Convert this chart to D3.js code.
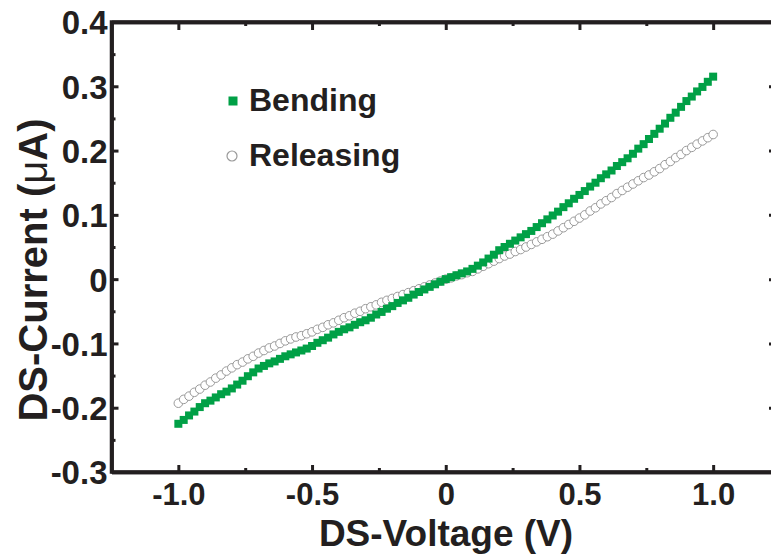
<!DOCTYPE html>
<html>
<head>
<meta charset="utf-8">
<script src="https://cdn.jsdelivr.net/npm/d3@7"></script>
<style>
  html, body { margin: 0; padding: 0; background: #fff; }
  svg { display: block; }
  text { font-family: "Liberation Sans", Arial, sans-serif; font-weight: bold; fill: #231f20; }
</style>
</head>
<body>
<svg id="chart" width="771" height="556"></svg>
<script>
// ---- data ----
const voltage = [
 -1.00,-0.98,-0.96,-0.94,-0.92,-0.90,-0.88,-0.86,-0.84,-0.82,
 -0.80,-0.78,-0.76,-0.74,-0.72,-0.70,-0.68,-0.66,-0.64,-0.62,
 -0.60,-0.58,-0.56,-0.54,-0.52,-0.50,-0.48,-0.46,-0.44,-0.42,
 -0.40,-0.38,-0.36,-0.34,-0.32,-0.30,-0.28,-0.26,-0.24,-0.22,
 -0.20,-0.18,-0.16,-0.14,-0.12,-0.10,-0.08,-0.06,-0.04,-0.02,
  0.00, 0.02, 0.04, 0.06, 0.08, 0.10, 0.12, 0.14, 0.16, 0.18,
  0.20, 0.22, 0.24, 0.26, 0.28, 0.30, 0.32, 0.34, 0.36, 0.38,
  0.40, 0.42, 0.44, 0.46, 0.48, 0.50, 0.52, 0.54, 0.56, 0.58,
  0.60, 0.62, 0.64, 0.66, 0.68, 0.70, 0.72, 0.74, 0.76, 0.78,
  0.80, 0.82, 0.84, 0.86, 0.88, 0.90, 0.92, 0.94, 0.96, 0.98,
  1.00
];
const bending = [
 -0.225,-0.219,-0.212,-0.206,-0.199,-0.193,-0.189,-0.184,-0.179,-0.175,
 -0.170,-0.164,-0.158,-0.151,-0.145,-0.139,-0.135,-0.131,-0.128,-0.124,
 -0.120,-0.117,-0.114,-0.111,-0.108,-0.104,-0.099,-0.095,-0.091,-0.086,
 -0.082,-0.078,-0.075,-0.071,-0.067,-0.064,-0.060,-0.055,-0.051,-0.046,
 -0.042,-0.037,-0.033,-0.029,-0.024,-0.020,-0.016,-0.012,-0.008,-0.004,
  0.000, 0.003, 0.006, 0.009, 0.012, 0.016, 0.021, 0.026, 0.032, 0.038,
  0.045, 0.050, 0.055, 0.060, 0.065, 0.070, 0.075, 0.081, 0.087, 0.093,
  0.099, 0.105, 0.112, 0.118, 0.125, 0.131, 0.137, 0.144, 0.150, 0.157,
  0.163, 0.169, 0.176, 0.182, 0.188, 0.195, 0.203, 0.210, 0.218, 0.226,
  0.234, 0.242, 0.251, 0.259, 0.268, 0.277, 0.284, 0.292, 0.299, 0.307,
  0.315
];
const releasing = [
 -0.193,-0.187,-0.182,-0.176,-0.171,-0.165,-0.160,-0.154,-0.149,-0.143,
 -0.138,-0.133,-0.129,-0.124,-0.120,-0.115,-0.111,-0.107,-0.104,-0.100,
 -0.096,-0.093,-0.090,-0.088,-0.085,-0.082,-0.078,-0.075,-0.071,-0.068,
 -0.064,-0.060,-0.057,-0.053,-0.050,-0.046,-0.043,-0.040,-0.036,-0.033,
 -0.030,-0.027,-0.024,-0.021,-0.018,-0.015,-0.012,-0.009,-0.006,-0.003,
  0.000, 0.002, 0.005, 0.007, 0.010, 0.012, 0.016, 0.020, 0.024, 0.028,
  0.032, 0.036, 0.039, 0.043, 0.046, 0.050, 0.054, 0.058, 0.062, 0.066,
  0.070, 0.075, 0.080, 0.085, 0.090, 0.095, 0.100, 0.106, 0.111, 0.117,
  0.122, 0.127, 0.133, 0.138, 0.143, 0.148, 0.153, 0.158, 0.162, 0.167,
  0.172, 0.178, 0.183, 0.189, 0.194, 0.200, 0.205, 0.210, 0.215, 0.220,
  0.225
];
const xTicks = [-1.0, -0.5, 0, 0.5, 1.0];
const xTickLabels = ["-1.0", "-0.5", "0", "0.5", "1.0"];
const xMinorTicks = [-0.75, -0.25, 0.25, 0.75];
const yTicks = [-0.3, -0.2, -0.1, 0, 0.1, 0.2, 0.3, 0.4];
const yTickLabels = ["-0.3", "-0.2", "-0.1", "0", "0.1", "0.2", "0.3", "0.4"];
const yMinorTicks = [-0.25, -0.15, -0.05, 0.05, 0.15, 0.25, 0.35];
const seriesNames = ["Bending", "Releasing"];

// ---- layout ----
const svg = d3.select("#chart");
const pLeft = 111.5, pRight = 780, pTop = 22, pBottom = 472;
const x = d3.scaleLinear().domain([-1.25, 1.25]).range([pLeft, pRight]);
const y = d3.scaleLinear().domain([-0.3, 0.4]).range([pBottom, pTop]);
const green = "#00a046";
const ink = "#231f20";

// ---- data marks ----
const relData = voltage.map((v, i) => ({ v, c: releasing[i] }));
const benData = voltage.map((v, i) => ({ v, c: bending[i] }));

svg.append("g").selectAll("circle").data(relData).join("circle")
  .attr("cx", d => x(d.v)).attr("cy", d => y(d.c)).attr("r", 4.3)
  .attr("fill", "#fff").attr("stroke", "#9a9a9a").attr("stroke-width", 1);

const sq = 8;
svg.append("g").selectAll("rect").data(benData).join("rect")
  .attr("x", d => x(d.v) - sq / 2).attr("y", d => y(d.c) - sq / 2)
  .attr("width", sq).attr("height", sq).attr("fill", green);

// ---- axes ----
const axBottom = svg.append("g").attr("transform", `translate(0,${pBottom})`)
  .call(d3.axisBottom(x).tickValues(xTicks).tickSizeInner(-7).tickSizeOuter(0).tickFormat((d, i) => xTickLabels[i]));
const axBottomMinor = svg.append("g").attr("transform", `translate(0,${pBottom})`)
  .call(d3.axisBottom(x).tickValues(xMinorTicks).tickSizeInner(-4).tickSizeOuter(0).tickFormat(""));
const axTop = svg.append("g").attr("transform", `translate(0,${pTop})`)
  .call(d3.axisTop(x).tickValues(xTicks).tickSizeInner(-8).tickSizeOuter(0).tickFormat(""));
const axTopMinor = svg.append("g").attr("transform", `translate(0,${pTop})`)
  .call(d3.axisTop(x).tickValues(xMinorTicks).tickSizeInner(-4).tickSizeOuter(0).tickFormat(""));
const axLeft = svg.append("g").attr("transform", `translate(${pLeft},0)`)
  .call(d3.axisLeft(y).tickValues(yTicks).tickSizeInner(-7).tickSizeOuter(0).tickFormat((d, i) => yTickLabels[i]));
const axLeftMinor = svg.append("g").attr("transform", `translate(${pLeft},0)`)
  .call(d3.axisLeft(y).tickValues(yMinorTicks).tickSizeInner(-4).tickSizeOuter(0).tickFormat(""));
const axRight = svg.append("g").attr("transform", `translate(${pRight},0)`)
  .call(d3.axisRight(y).tickValues(yTicks).tickSizeInner(-11).tickSizeOuter(0).tickFormat(""));

[axBottom, axBottomMinor, axTop, axTopMinor, axLeft, axLeftMinor, axRight].forEach(g => {
  g.select(".domain").attr("stroke", ink).attr("stroke-width", 3.5);
  g.selectAll(".tick line").attr("stroke", ink).attr("stroke-width", 3);
});
svg.append("path")
  .attr("d", `M${pLeft},${pTop}H${pRight}V${pBottom}H${pLeft}Z`)
  .attr("fill", "none").attr("stroke", ink).attr("stroke-width", 3.5).attr("stroke-linejoin", "miter");

axBottom.selectAll(".tick text")
  .attr("y", 11).attr("dy", "0.71em")
  .style("font-family", "'Liberation Sans', Arial, sans-serif").style("font-weight", "bold")
  .style("font-size", "31px").attr("fill", ink);
axLeft.selectAll(".tick text")
  .attr("x", -4).attr("dy", "0.36em")
  .style("font-family", "'Liberation Sans', Arial, sans-serif").style("font-weight", "bold")
  .style("font-size", "33px").attr("fill", ink);

// ---- axis titles ----
svg.append("text")
  .attr("x", 446).attr("y", 546)
  .attr("text-anchor", "middle").style("font-size", "37px")
  .text("DS-Voltage (V)");

const yt = svg.append("text")
  .attr("transform", `translate(47,270) rotate(-90)`)
  .attr("text-anchor", "middle").style("font-size", "40px");
yt.append("tspan").text("DS-Current (");
yt.append("tspan").style("font-weight", "normal").text("\u03bc");
yt.append("tspan").text("A)");

// ---- legend ----
const leg = svg.append("g");
leg.append("rect").attr("x", 228.5).attr("y", 96.5).attr("width", 9).attr("height", 9).attr("fill", green);
leg.append("text").attr("x", 249).attr("y", 111).style("font-size", "32px").text(seriesNames[0]);
leg.append("circle").attr("cx", 232).attr("cy", 156).attr("r", 5)
  .attr("fill", "#fff").attr("stroke", "#9a9a9a").attr("stroke-width", 1.2);
leg.append("text").attr("x", 249).attr("y", 166).style("font-size", "32px").text(seriesNames[1]);
</script>
</body>
</html>
